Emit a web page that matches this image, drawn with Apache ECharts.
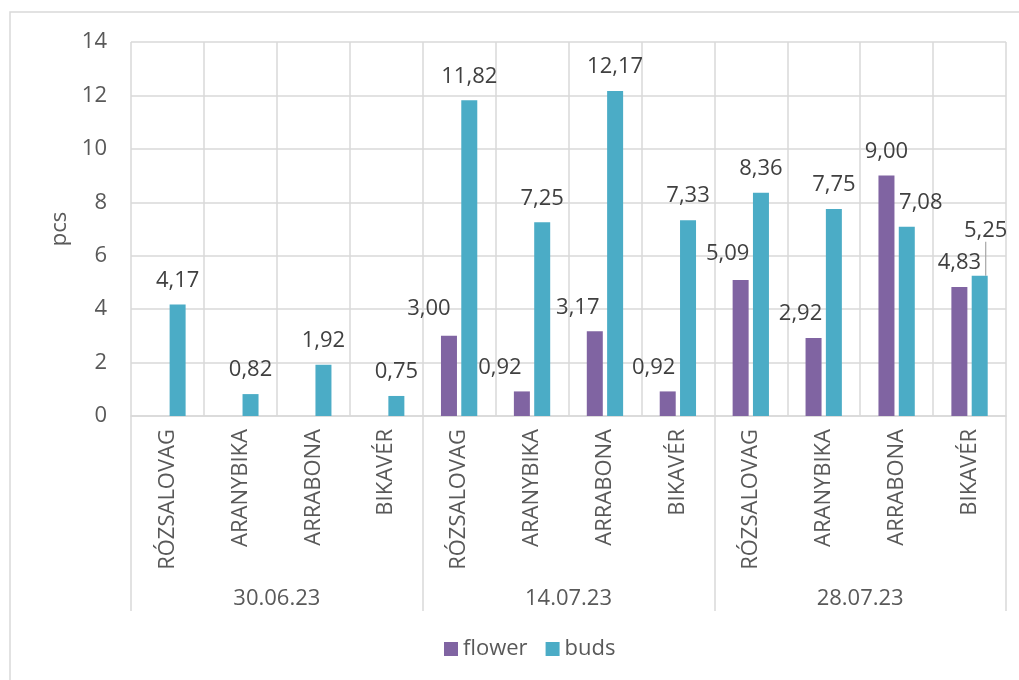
<!DOCTYPE html>
<html>
<head>
<meta charset="utf-8">
<script src="https://cdn.jsdelivr.net/npm/echarts@6/dist/echarts.min.js"></script>
<style>
  html, body { margin: 0; padding: 0; background: #fff; }
  #chart { width: 1019px; height: 680px; }
</style>
</head>
<body>
<div id="chart"></div>
<script>
// cultivars, repeated for each sampling date
const varieties = ['RÓZSALOVAG', 'ARANYBIKA', 'ARRABONA', 'BIKAVÉR',
  'RÓZSALOVAG', 'ARANYBIKA', 'ARRABONA', 'BIKAVÉR',
  'RÓZSALOVAG', 'ARANYBIKA', 'ARRABONA', 'BIKAVÉR']
const dates = ['30.06.23', '14.07.23', '28.07.23']

const flower = [null, null, null, null, 3.00, 0.92, 3.17, 0.92, 5.09, 2.92, 9.00, 4.83]
const buds = [4.17, 0.82, 1.92, 0.75, 11.82, 7.25, 12.17, 7.33, 8.36, 7.75, 7.08, 5.25]

const yTicks = { min: 0, max: 14, step: 2 }

// manual label nudges (like the hand-placed labels in the original)
const flowerLabelShift = [null, null, null, null, [-20, -3], [-22, 0], [-17, 0], [-14, 0], [-13, -2], [-13, 0], null, null]
const budsLabelShift = [null, null, null, null, null, null, null, null, null, null, [14, 0], [6, -21]]
const budsLeader = [false, false, false, false, false, false, false, false, false, false, false, true]

const colors = { flower: '#8064a2', buds: '#4bacc6' }
const gridColor = '#d9d9d9'
const font = '"Open Sans", "Noto Sans", sans-serif'
const fs = 22

function fmt(v) {
  return Number(v).toFixed(2).replace('.', ',')
}

function buildData(values, leaders) {
  return values.map((v, i) => {
    if (v == null) return '-'
    const item = { value: v }
    if (leaders && leaders[i]) {
      item.labelLine = { show: true, lineStyle: { color: '#a6a6a6', width: 1.2 } }
    }
    return item
  })
}

// label moves go through labelLayout so the leader line follows them
function shiftLayout(shifts) {
  return params => {
    const s = shifts[params.dataIndex]
    return s ? { dx: s[0], dy: s[1] } : {}
  }
}

const labelStyle = {
  show: true,
  position: 'top',
  distance: 13,
  fontSize: fs,
  fontFamily: font,
  color: '#404040',
  formatter: p => fmt(p.value)
}

const chart = echarts.init(document.getElementById('chart'))

const option = {
  animation: false,
  textStyle: { fontFamily: font },
  graphic: [{
    type: 'rect',
    shape: { x: 10, y: 12, width: 1100, height: 800 },
    style: { fill: 'none', stroke: gridColor, lineWidth: 1.5 },
    silent: true
  }],
  grid: {
    left: 131,
    right: 13,
    top: 42,
    bottom: 264,
    outerBoundsMode: 'none'
  },
  legend: {
    data: ['flower', 'buds'],
    left: 439,
    top: 633,
    icon: 'rect',
    itemWidth: 14,
    itemHeight: 14,
    itemGap: 18,
    textStyle: { fontSize: fs, color: '#595959', fontFamily: font }
  },
  xAxis: [
    {
      type: 'category',
      data: varieties,
      position: 'bottom',
      axisLine: { lineStyle: { color: gridColor, width: 1.5 } },
      axisTick: { show: false },
      axisLabel: {
        rotate: 90,
        interval: 0,
        margin: 13,
        fontSize: fs,
        color: '#595959',
        fontFamily: font
      },
      splitLine: { show: true, lineStyle: { color: gridColor, width: 1.5 } }
    },
    {
      type: 'category',
      data: dates,
      position: 'bottom',
      axisLine: { show: false },
      axisTick: { show: true, length: 195, lineStyle: { color: gridColor, width: 1.5 } },
      axisLabel: {
        margin: 172,
        fontSize: fs,
        color: '#595959',
        fontFamily: font
      },
      splitLine: { show: false }
    }
  ],
  yAxis: {
    type: 'value',
    min: yTicks.min,
    max: yTicks.max,
    interval: yTicks.step,
    name: 'pcs',
    nameLocation: 'middle',
    nameGap: 58,
    nameTextStyle: { fontSize: fs, color: '#595959', fontFamily: font },
    axisLine: { show: false },
    axisTick: { show: false },
    axisLabel: { margin: 24, fontSize: fs, color: '#595959', fontFamily: font },
    splitLine: { lineStyle: { color: gridColor, width: 1.5 } }
  },
  series: [
    {
      name: 'flower',
      type: 'bar',
      xAxisIndex: 0,
      barWidth: 16,
      barGap: '27%',
      itemStyle: { color: colors.flower },
      label: labelStyle,
      labelLayout: shiftLayout(flowerLabelShift),
      data: buildData(flower)
    },
    {
      name: 'buds',
      type: 'bar',
      xAxisIndex: 0,
      barWidth: 16,
      barGap: '27%',
      itemStyle: { color: colors.buds },
      label: labelStyle,
      labelLayout: shiftLayout(budsLabelShift),
      data: buildData(buds, budsLeader)
    }
  ]
}

chart.setOption(option)
</script>
</body>
</html>
